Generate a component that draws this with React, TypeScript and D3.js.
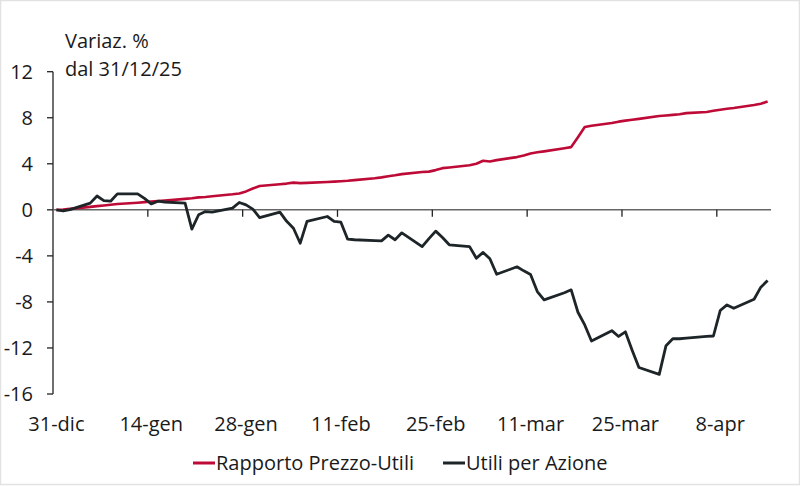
import React from "react";
import * as d3 from "d3";

const dates: string[] = [
  "2025-12-31", "2026-01-01", "2026-01-02", "2026-01-05", "2026-01-06", "2026-01-07", "2026-01-08", "2026-01-09",
  "2026-01-12", "2026-01-13", "2026-01-14", "2026-01-15", "2026-01-16", "2026-01-19", "2026-01-20", "2026-01-21",
  "2026-01-22", "2026-01-23", "2026-01-26", "2026-01-27", "2026-01-28", "2026-01-29", "2026-01-30", "2026-02-02",
  "2026-02-03", "2026-02-04", "2026-02-05", "2026-02-06", "2026-02-09", "2026-02-10", "2026-02-11", "2026-02-12",
  "2026-02-13", "2026-02-16", "2026-02-17", "2026-02-18", "2026-02-19", "2026-02-20", "2026-02-23", "2026-02-24",
  "2026-02-25", "2026-02-26", "2026-02-27", "2026-03-02", "2026-03-03", "2026-03-04", "2026-03-05", "2026-03-06",
  "2026-03-09", "2026-03-10", "2026-03-11", "2026-03-12", "2026-03-13", "2026-03-16", "2026-03-17", "2026-03-18",
  "2026-03-19", "2026-03-20", "2026-03-23", "2026-03-24", "2026-03-25", "2026-03-26", "2026-03-27", "2026-03-30",
  "2026-03-31", "2026-04-01", "2026-04-02", "2026-04-03", "2026-04-06", "2026-04-07", "2026-04-08", "2026-04-09",
  "2026-04-10", "2026-04-13", "2026-04-14", "2026-04-15",
];

// Rapporto Prezzo-Utili
const peValues: number[] = [
  0.0, 0.02, 0.08, 0.26, 0.32, 0.38, 0.44, 0.5,
  0.62, 0.67, 0.72, 0.76, 0.8, 0.95, 1.0, 1.08,
  1.12, 1.18, 1.35, 1.42, 1.6, 1.85, 2.07, 2.22,
  2.28, 2.36, 2.32, 2.34, 2.42, 2.45, 2.48, 2.52,
  2.58, 2.75, 2.82, 2.92, 3.0, 3.1, 3.28, 3.32,
  3.45, 3.62, 3.68, 3.88, 4.0, 4.26, 4.2, 4.32,
  4.58, 4.72, 4.9, 5.0, 5.08, 5.35, 5.45, 6.3,
  7.19, 7.3, 7.55, 7.66, 7.75, 7.82, 7.9, 8.15,
  8.2, 8.25, 8.3, 8.4, 8.5, 8.6, 8.7, 8.78,
  8.85, 9.1, 9.22, 9.42,
];

// Utili per Azione
const epsValues: number[] = [
  0.0, -0.1, 0.02, 0.58, 1.2, 0.8, 0.75, 1.39,
  1.39, 1.0, 0.52, 0.75, 0.68, 0.58, -1.68, -0.43,
  -0.15, -0.2, 0.15, 0.64, 0.43, 0.06, -0.67, -0.2,
  -1.0, -1.6, -2.9, -1.0, -0.58, -1.0, -1.07, -2.55,
  -2.6, -2.68, -2.7, -2.2, -2.6, -2.0, -3.2, -2.5,
  -1.85, -2.4, -3.04, -3.2, -4.2, -3.7, -4.25, -5.6,
  -4.95, -5.3, -5.62, -7.1, -7.82, -7.2, -6.95, -8.9,
  -10.0, -11.4, -10.5, -11.0, -10.6, -12.2, -13.7, -14.3,
  -11.8, -11.2, -11.2, -11.15, -11.0, -10.96, -8.75, -8.26,
  -8.55, -7.77, -6.72, -6.15,
];

const xTickDates: string[] = ["2025-12-31", "2026-01-14", "2026-01-28", "2026-02-11", "2026-02-25", "2026-03-11", "2026-03-25", "2026-04-08"];
const xTickLabels: string[] = ["31-dic", "14-gen", "28-gen", "11-feb", "25-feb", "11-mar", "25-mar", "8-apr"];
const yTicks: number[] = [12, 8, 4, 0, -4, -8, -12, -16];

const seriesNames: string[] = ["Rapporto Prezzo-Utili", "Utili per Azione"];
const seriesColors: string[] = ["#BE0A36", "#1E2528"];

const W = 800;
const H = 486;
const FONT = "'Open Sans', 'Noto Sans', sans-serif";
const FS = 20;
const DAY = 86400000;

export default function App() {
  const parse = (s: string) => new Date(s + "T00:00:00Z");
  const x = d3
    .scaleUtc()
    .domain([parse("2025-12-31"), parse("2026-04-16")])
    .range([53, 771]);
  const y = d3.scaleLinear().domain([-16, 12]).range([394, 71.7]);

  const mid = (s: string) => new Date(parse(s).getTime() + DAY / 2);

  const line = d3
    .line<[string, number]>()
    .x((d) => x(mid(d[0])))
    .y((d) => y(d[1]));

  const peData: [string, number][] = dates.map((d, i) => [d, peValues[i]]);
  const epsData: [string, number][] = dates.map((d, i) => [d, epsValues[i]]);

  const y0 = y(0);

  return (
    <svg
      width={W}
      height={H}
      style={{ position: "absolute", left: 0, top: 0, background: "#fff" }}
      fontFamily={FONT}
    >
      <rect x={0.5} y={0.5} width={W - 1} height={H - 2} fill="#fff" stroke="#e2e2e2" strokeWidth={1.5} />

      {/* Title */}
      <text x={65} y={48} fontSize={FS} fill="#1a1a1a">Variaz. %</text>
      <text x={65} y={76} fontSize={FS} fill="#1a1a1a">dal 31/12/25</text>

      {/* Y axis */}
      <line x1={53} x2={53} y1={y(12)} y2={y(-16)} stroke="#222" strokeWidth={1.3} />
      {yTicks.map((t) => (
        <g key={t}>
          <line x1={47} x2={53} y1={y(t)} y2={y(t)} stroke="#222" strokeWidth={1.3} />
          <text x={33} y={y(t) + 7} fontSize={FS} textAnchor="end" fill="#1a1a1a">
            {t}
          </text>
        </g>
      ))}

      {/* X axis */}
      <line x1={53} x2={771} y1={y0} y2={y0} stroke="#666" strokeWidth={1.5} />
      {xTickDates.map((d, i) => (
        <g key={d}>
          {i > 0 && (
            <line x1={x(parse(d))} x2={x(parse(d))} y1={y0} y2={y0 + 7} stroke="#222" strokeWidth={1.3} />
          )}
          <text x={x(mid(d))} y={431} fontSize={FS} textAnchor="middle" fill="#1a1a1a">
            {xTickLabels[i]}
          </text>
        </g>
      ))}

      {/* Lines */}
      <path d={line(peData) || ""} fill="none" stroke={seriesColors[0]} strokeWidth={2.6} strokeLinejoin="round" />
      <path d={line(epsData) || ""} fill="none" stroke={seriesColors[1]} strokeWidth={2.8} strokeLinejoin="round" />

      {/* Legend */}
      <line x1={193} x2={215} y1={463} y2={463} stroke={seriesColors[0]} strokeWidth={3} />
      <text x={216} y={470} fontSize={FS} fill="#1a1a1a">{seriesNames[0]}</text>
      <line x1={443} x2={465} y1={463} y2={463} stroke={seriesColors[1]} strokeWidth={3} />
      <text x={466} y={470} fontSize={FS} fill="#1a1a1a">{seriesNames[1]}</text>
    </svg>
  );
}
